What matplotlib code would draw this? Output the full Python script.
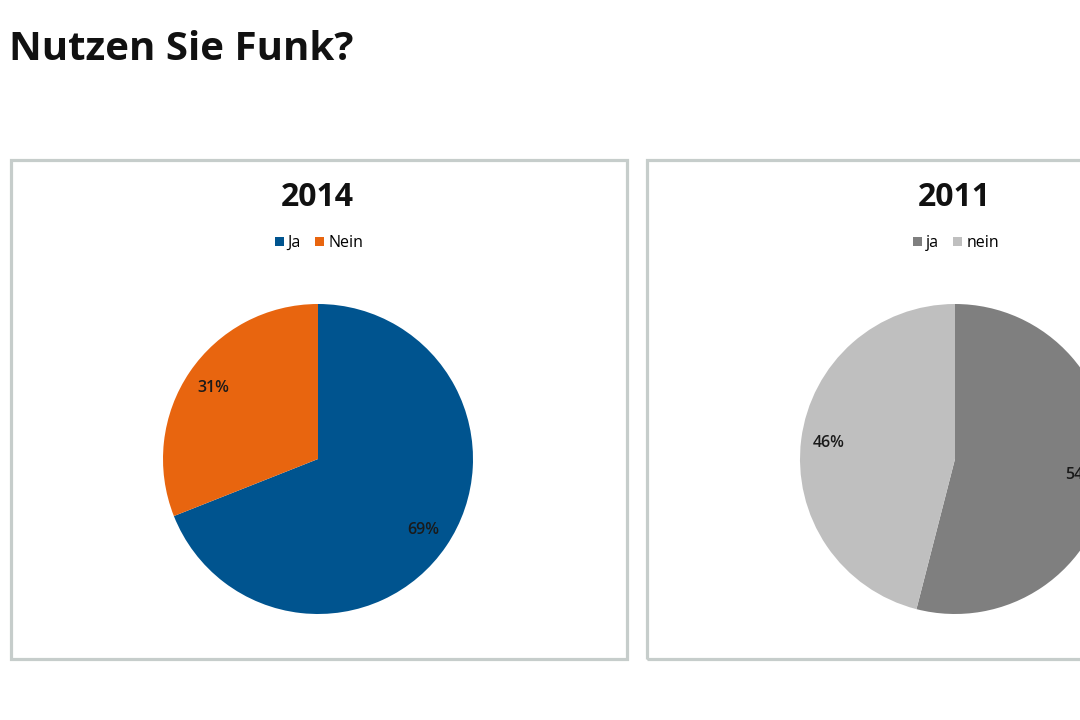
import matplotlib

matplotlib.use("Agg")
import matplotlib.pyplot as plt
import matplotlib.patches as patches

plt.rcParams["font.family"] = ["Open Sans", "DejaVu Sans"]

W, H = 1080, 720

TITLE = "Nutzen Sie Funk?"
YEARS = ["2014", "2011"]
LABELS_2014 = ["Ja", "Nein"]
VALUES_2014 = [69, 31]
LABELS_2011 = ["ja", "nein"]
VALUES_2011 = [54, 46]
COLORS_2014 = ["#00548f", "#e8650f"]
COLORS_2011 = ["#7f7f7f", "#bfbfbf"]


def fx(x):
    return x / W


def fy(y):
    return 1 - y / H


fig = plt.figure(figsize=(W / 100, H / 100), dpi=100)
fig.patch.set_facecolor("white")

fig.text(fx(9), fy(50), TITLE, fontsize=29, fontweight="bold",
         ha="left", va="center", color="#111111")

panels = [
    # (left, right, centre x, labels, values, colours)
    (10.5, 626.5, 318, LABELS_2014, VALUES_2014, COLORS_2014),
    (647, 1263, 955, LABELS_2011, VALUES_2011, COLORS_2011),
]
top, bottom = 159.5, 659
cy, r = 459, 155

for year, (left, right, cx, labels, values, colors) in zip(YEARS, panels):
    fig.patches.append(patches.Rectangle(
        (fx(left), fy(bottom)), fx(right - left), (bottom - top) / H,
        transform=fig.transFigure, facecolor="none",
        edgecolor="#c6cdcb", linewidth=2.3, clip_on=False))

    fig.text(fx(cx - 1), fy(197), year, fontsize=23, fontweight="bold",
             ha="center", va="center", color="#111111")

    ax = fig.add_axes([fx(cx - r), fy(cy + r), 2 * r / W, 2 * r / H])
    wedges, _, autotexts = ax.pie(
        values, colors=colors, startangle=90, counterclock=False,
        autopct="%d%%", pctdistance=0.82,
        wedgeprops=dict(linewidth=0),
        textprops=dict(fontsize=11.5, color="#1a1a1a", fontweight="semibold"))
    ax.set_xlim(-1, 1)
    ax.set_ylim(-1, 1)
    ax.set_aspect("equal")
    ax.axis("off")

    ax.legend(wedges, labels, loc="center",
              bbox_to_anchor=(fx(cx + 1), fy(243)), bbox_transform=fig.transFigure,
              ncol=2, frameon=False, fontsize=11.5, handlelength=0.55,
              handleheight=0.55, handletextpad=0.25, columnspacing=0.9,
              borderaxespad=0, borderpad=0)

fig.savefig("out.png", dpi=100, facecolor="white")
